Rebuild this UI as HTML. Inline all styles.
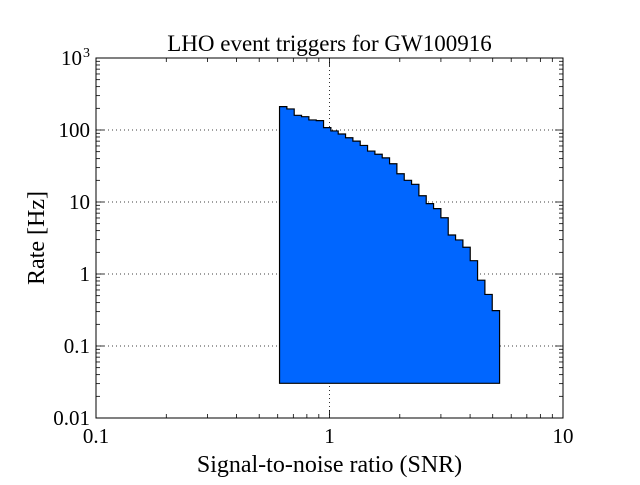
<!DOCTYPE html>
<html><head><meta charset="utf-8"><style>
body{margin:0;background:#fff;}
svg text{font-family:"Liberation Serif",serif;fill:#000;}
</style></head><body>
<svg id="chart" width="640" height="480"></svg>
<script>
const binEdgesLo = 0.611, binEdgesHi = 5.35;
const rates = [211,196,160,153,138,135,108,97,88,78,70,61,51,46,41,34,24.7,20,17.6,12.2,9.5,8.1,6.05,3.48,2.97,2.35,1.53,0.82,0.52,0.31];
const baseRate = 0.0303;
const xTicks = [0.1,1,10];
const xTickLabels = ["0.1","1","10"];
const yTicks = [0.01,0.1,1,10,100,1000];
const yTickLabels = ["0.01","0.1","1","10","100","10"];

const L=96,R=563,T=58,B=418;
const NS="http://www.w3.org/2000/svg";
const svg=document.getElementById('chart');
const xs=v=>L+(Math.log10(v)+1)/2*(R-L);
const ys=v=>B-(Math.log10(v)+2)/5*(B-T);
function mk(t,a,p){const e=document.createElementNS(NS,t);for(const k in a)e.setAttribute(k,a[k]);(p||svg).appendChild(e);return e;}

xTicks.forEach(v=>{if(v>0.1&&v<10){const g=mk('line',{x1:xs(v),x2:xs(v),y1:T,y2:B,stroke:'#000','stroke-dasharray':'1,3','stroke-width':0.8});

}});
yTicks.forEach(v=>{if(v>0.01&&v<1000){const g=mk('line',{x1:L,x2:R,y1:ys(v),y2:ys(v),stroke:'#000','stroke-dasharray':'1,3','stroke-width':0.8});

}});

const n=rates.length;
const lx0=Math.log10(binEdgesLo),lx1=Math.log10(binEdgesHi);
const edge=i=>Math.pow(10,lx0+(lx1-lx0)*i/n);
let d=`M${xs(edge(0))},${ys(baseRate)}`;
rates.forEach((r,i)=>{d+=` L${xs(edge(i))},${ys(r)} L${xs(edge(i+1))},${ys(r)}`;});
d+=` L${xs(edge(n))},${ys(baseRate)} Z`;
const h=mk('path',{d:d,fill:'#0066ff',stroke:'#000','stroke-width':1.2});



const f=mk('rect',{x:L,y:T,width:R-L,height:B-T,fill:'none',stroke:'#000','stroke-width':1});



for(let e=-1;e<1;e++)for(let m=1;m<10;m++){const v=m*Math.pow(10,e);const x=xs(v);const len=m==1?8:4;
mk('line',{x1:x,x2:x,y1:B,y2:B-len,stroke:'#000','stroke-width':0.8});mk('line',{x1:x,x2:x,y1:T,y2:T+len,stroke:'#000','stroke-width':0.8});}
for(let e=-2;e<3;e++)for(let m=1;m<10;m++){const v=m*Math.pow(10,e);const y=ys(v);const len=m==1?8:4;
mk('line',{x1:L,x2:L+len,y1:y,y2:y,stroke:'#000','stroke-width':0.8});mk('line',{x1:R,x2:R-len,y1:y,y2:y,stroke:'#000','stroke-width':0.8});}

xTicks.forEach((v,i)=>{const t=mk('text',{x:xs(v),y:B+25,'text-anchor':'middle','font-size':21});t.textContent=xTickLabels[i];

});
yTicks.forEach((v,i)=>{
const last=(i===yTicks.length-1);
const t=mk('text',{x:L-(last?14:6),y:ys(v)+7,'text-anchor':'end','font-size':21});t.textContent=yTickLabels[i];


if(last){const s=mk('text',{x:L-13,y:ys(v)-1,'font-size':14});s.textContent='3';

}
});

const tt=mk('text',{x:(L+R)/2,y:51,'text-anchor':'middle','font-size':23});tt.textContent='LHO event triggers for GW100916';


const xt=mk('text',{x:(L+R)/2,y:472,'text-anchor':'middle','font-size':24});xt.textContent='Signal-to-noise ratio (SNR)';


const yt=mk('text',{x:44,y:238,'text-anchor':'middle','font-size':24,transform:'rotate(-90 44 238)'});yt.textContent='Rate [Hz]';


</script>
</body></html>
